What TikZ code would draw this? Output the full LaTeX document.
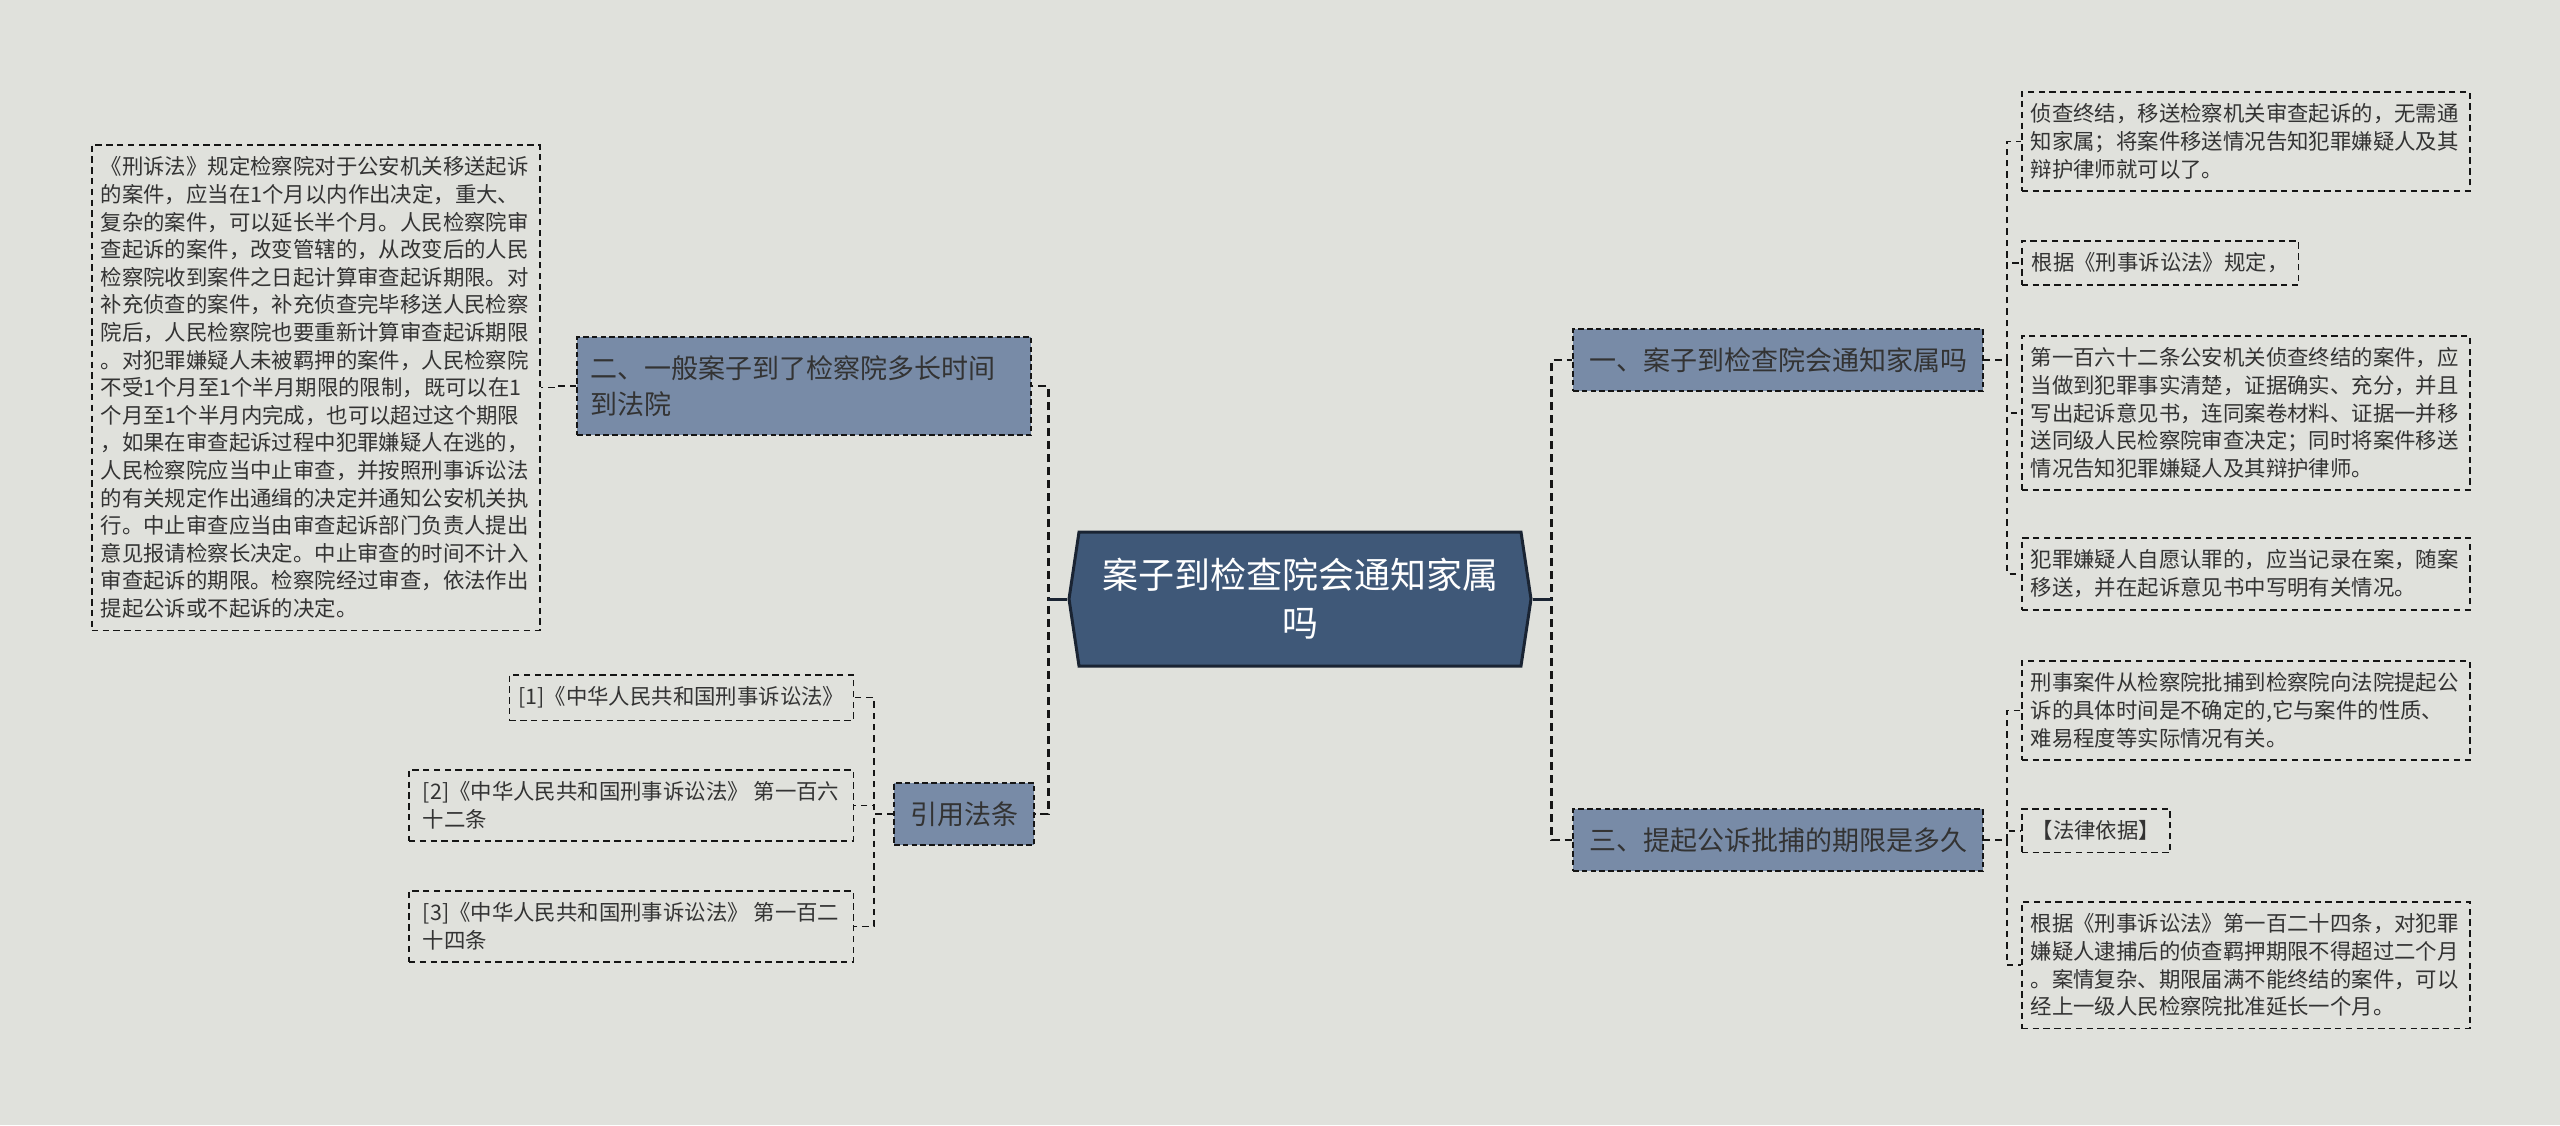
\documentclass[tikz,border=0pt]{standalone}
\usepackage{fontspec}
\setmainfont{Noto Sans CJK SC}
\usetikzlibrary{positioning,shapes.symbols}
\definecolor{bgcol}{HTML}{E0E1DC}
\definecolor{rootcol}{HTML}{3F5878}
\definecolor{rootline}{HTML}{1A2433}
\definecolor{branchcol}{HTML}{788BA7}
\definecolor{linecol}{HTML}{151515}
\definecolor{textcol}{HTML}{333333}

\begin{document}
\begin{tikzpicture}[
    x=0.5pt, y=-0.5pt,
    root/.style={signal, signal to=west and east, signal pointer angle=163, fill=rootcol, draw=rootline, line width=1.5pt, text=white, align=center, font=\fontsize{18pt}{24pt}\selectfont, minimum width=231pt, minimum height=67pt, inner xsep=10pt},
    branch/.style={fill=branchcol, draw=linecol, line width=1pt, dash pattern=on 2.8pt off 1.6pt, text=textcol, align=left, font=\fontsize{13.5pt}{18pt}\selectfont, inner xsep=8pt, minimum height=31pt},
    leaf/.style={draw=linecol, line width=0.75pt, dash pattern=on 3.2pt off 2.2pt, text=textcol, align=left, font=\fontsize{10.7pt}{13.8pt}\selectfont, inner xsep=5pt, inner ysep=6pt},
    note/.style={leaf, text width=215pt, inner xsep=4.5pt},
    mainlink/.style={draw=linecol, line width=1.3pt, dash pattern=on 4pt off 2.5pt},
    sublink/.style={draw=linecol, line width=0.8pt, dash pattern=on 3.2pt off 2.5pt},
    stub/.style={draw=rootline, line width=1.5pt}
]
\path[use as bounding box, fill=bgcol] (0,0) rectangle (2560,1125);

\node[root] (root) at (1300,599) {案子到检查院会通知家属\\吗};

\node[branch, text width=214pt, inner xsep=6.5pt, minimum height=49pt, anchor=north west] (b2) at (576,336) {二、一般案子到了检察院多长时间\\到法院};
\node[branch, anchor=north west] (bcite) at (893,782) {引用法条};
\node[branch, anchor=north west] (b1) at (1572,328) {一、案子到检查院会通知家属吗};
\node[branch, anchor=north west] (b3) at (1572,808) {三、提起公诉批捕的期限是多久};

\node[note, anchor=north west] (lnote) at (91,144) {《刑诉法》规定检察院对于公安机关移送起诉\\的案件，应当在1个月以内作出决定，重大、\\复杂的案件，可以延长半个月。人民检察院审\\查起诉的案件，改变管辖的，从改变后的人民\\检察院收到案件之日起计算审查起诉期限。对\\补充侦查的案件，补充侦查完毕移送人民检察\\院后，人民检察院也要重新计算审查起诉期限\\。对犯罪嫌疑人未被羁押的案件，人民检察院\\不受1个月至1个半月期限的限制，既可以在1\\个月至1个半月内完成，也可以超过这个期限\\，如果在审查起诉过程中犯罪嫌疑人在逃的，\\人民检察院应当中止审查，并按照刑事诉讼法\\的有关规定作出通缉的决定并通知公安机关执\\行。中止审查应当由审查起诉部门负责人提出\\意见报请检察长决定。中止审查的时间不计入\\审查起诉的期限。检察院经过审查，依法作出\\提起公诉或不起诉的决定。};

\node[leaf, inner xsep=4.5pt, anchor=north east] (cite1) at (854,674) {[1]《中华人民共和国刑事诉讼法》};
\node[leaf, inner xsep=7pt, anchor=north east] (cite2) at (854,769) {[2]《中华人民共和国刑事诉讼法》 第一百六\\十二条};
\node[leaf, inner xsep=7pt, anchor=north east] (cite3) at (854,890) {[3]《中华人民共和国刑事诉讼法》 第一百二\\十四条};

\node[note, anchor=north west] (r1a) at (2021,91) {侦查终结，移送检察机关审查起诉的，无需通\\知家属；将案件移送情况告知犯罪嫌疑人及其\\辩护律师就可以了。};
\node[leaf, anchor=north west] (r1b) at (2021,240) {根据《刑事诉讼法》规定，};
\node[note, anchor=north west] (r1c) at (2021,335) {第一百六十二条公安机关侦查终结的案件，应\\当做到犯罪事实清楚，证据确实、充分，并且\\写出起诉意见书，连同案卷材料、证据一并移\\送同级人民检察院审查决定；同时将案件移送\\情况告知犯罪嫌疑人及其辩护律师。};
\node[note, anchor=north west] (r1d) at (2021,537) {犯罪嫌疑人自愿认罪的，应当记录在案，随案\\移送，并在起诉意见书中写明有关情况。};

\node[note, anchor=north west] (r3a) at (2021,660) {刑事案件从检察院批捕到检察院向法院提起公\\诉的具体时间是不确定的,它与案件的性质、\\难易程度等实际情况有关。};
\node[leaf, anchor=north west] (r3b) at (2021,808) {【法律依据】};
\node[note, anchor=north west] (r3c) at (2021,901) {根据《刑事诉讼法》第一百二十四条，对犯罪\\嫌疑人逮捕后的侦查羁押期限不得超过二个月\\。案情复杂、期限届满不能终结的案件，可以\\经上一级人民检察院批准延长一个月。};

\draw[mainlink] (root.west) -- ++(-19,0) |- (b2.east);
\draw[mainlink] (root.west) -- ++(-19,0) |- (bcite.east);
\draw[mainlink] (root.east) -- ++(19,0) |- (b1.west);
\draw[mainlink] (root.east) -- ++(19,0) |- (b3.west);
\draw[stub] (root.west) -- ++(-19,0);
\draw[stub] (root.east) -- ++(19,0);

\draw[sublink] (b2.west) -- ++(-20,0) |- (lnote.east);

\draw[sublink] (bcite.west) -- ++(-19,0) |- (cite1.east);
\draw[sublink] (bcite.west) -- ++(-19,0) |- (cite2.east);
\draw[sublink] (bcite.west) -- ++(-19,0) |- (cite3.east);

\draw[sublink] (b1.east) -- ++(23,0) |- (r1a.west);
\draw[sublink] (b1.east) -- ++(23,0) |- (r1b.west);
\draw[sublink] (b1.east) -- ++(23,0) |- (r1c.west);
\draw[sublink] (b1.east) -- ++(23,0) |- (r1d.west);

\draw[sublink] (b3.east) -- ++(23,0) |- (r3a.west);
\draw[sublink] (b3.east) -- ++(23,0) |- (r3b.west);
\draw[sublink] (b3.east) -- ++(23,0) |- (r3c.west);
\end{tikzpicture}
\end{document}
